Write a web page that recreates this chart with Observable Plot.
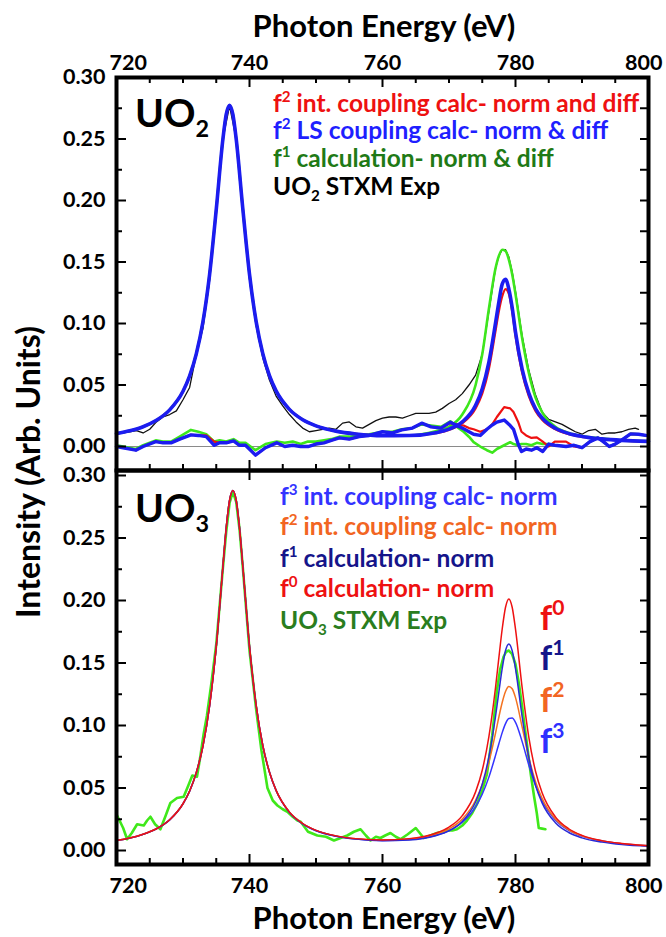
<!DOCTYPE html>
<html><head><meta charset="utf-8">
<script src="https://cdn.jsdelivr.net/npm/d3@7"></script>
<script src="https://cdn.jsdelivr.net/npm/@observablehq/plot@0.6"></script>
<style>
html,body{margin:0;padding:0;background:#fff;}
#chart{position:relative;width:666px;height:937px;overflow:hidden;background:#fff;}
#chart svg{position:absolute;left:0;top:0;}
</style></head><body><div id="chart"></div>
<script>
// ---------- DATA ----------
const xTickMajor = [720, 740, 760, 780, 800];
const xTickMinor = [725, 730, 735, 745, 750, 755, 765, 770, 775, 785, 790, 795];
const yTickMajor = [0, 0.05, 0.10, 0.15, 0.20, 0.25, 0.30];
const yTickMinor = [0.025, 0.075, 0.125, 0.175, 0.225, 0.275];

// Top panel: UO2
const eTop = [720,722,724,726,728,730,731,732,733,734,735,736,736.5,737,737.5,738,739,740,741,742,743,744,746,748,750,753,756,760,764,768,770,772,774,775,776,777,777.5,778,778.5,779,779.5,780,781,782,783,784,786,788,790,793,796,800];
const uo2LS = [0.0105,0.0128,0.0161,0.0213,0.0298,0.0449,0.0574,0.0753,0.1014,0.1399,0.1927,0.2499,0.2700,0.2774,0.2700,0.2500,0.1930,0.1400,0.1015,0.0755,0.0576,0.0452,0.0302,0.0218,0.0168,0.0125,0.0102,0.0088,0.0089,0.0112,0.0141,0.0200,0.0336,0.0470,0.0686,0.1005,0.1175,0.1320,0.1360,0.1280,0.1130,0.0930,0.0630,0.0435,0.0309,0.0232,0.0148,0.0106,0.0082,0.0062,0.0050,0.0042];
const uo2Int = [0.0105,0.0128,0.0161,0.0213,0.0298,0.0449,0.0574,0.0753,0.1014,0.1399,0.1927,0.2499,0.2700,0.2774,0.2700,0.2500,0.1930,0.1400,0.1015,0.0755,0.0576,0.0452,0.0302,0.0218,0.0168,0.0125,0.0102,0.0088,0.0088,0.0108,0.0135,0.0190,0.0310,0.0430,0.0630,0.0940,0.1100,0.1220,0.1280,0.1240,0.1100,0.0900,0.0600,0.0410,0.0290,0.0218,0.0140,0.0100,0.0079,0.0060,0.0048,0.0040];
const uo2F1 = [0.0105,0.0128,0.0161,0.0213,0.0298,0.0449,0.0574,0.0753,0.1014,0.1399,0.1927,0.2499,0.2700,0.2774,0.2700,0.2500,0.1930,0.1400,0.1015,0.0755,0.0576,0.0452,0.0302,0.0218,0.0168,0.0125,0.0102,0.0088,0.0090,0.0125,0.0160,0.0260,0.0500,0.0750,0.1120,0.1450,0.1550,0.1600,0.1590,0.1520,0.1400,0.1240,0.0880,0.0600,0.0400,0.0280,0.0160,0.0110,0.0085,0.0065,0.0050,0.0042];

const eExpTop = [720,721,722,723,724,725,726,727,728,729,730,731,732,733,734,735,736,737,738,739,740,741,742,743,744,745,746,747,748,749,750,751,752,753,754,755,756,757,758,759,760,761,762,763,764,765,766,767,768,769,770,771,772,773,774,775,776,777,777.5,778,778.5,779,779.5,780,781,782,783,784,785,786,787,788,789,790,791,792,793,794,795,796,797,798,798.5];
const uo2Exp = [0.010,0.011,0.012,0.013,0.011,0.014,0.020,0.024,0.026,0.029,0.038,0.048,0.075,0.096,0.135,0.195,0.250,0.277,0.250,0.190,0.136,0.098,0.072,0.054,0.041,0.033,0.026,0.020,0.015,0.012,0.013,0.014,0.015,0.014,0.019,0.020,0.016,0.015,0.018,0.021,0.023,0.024,0.024,0.023,0.025,0.027,0.027,0.027,0.028,0.031,0.035,0.038,0.043,0.050,0.058,0.075,0.110,0.145,0.155,0.160,0.160,0.154,0.142,0.126,0.090,0.062,0.042,0.028,0.022,0.020,0.018,0.015,0.012,0.010,0.013,0.014,0.010,0.011,0.011,0.012,0.014,0.015,0.014];

const eDiff = [720,721,722.9,724,725.9,727,728.2,729.5,731.2,732.3,733.5,734.7,735.5,736.5,737.6,738.5,739.4,740.9,742.4,744.1,745.3,746.5,747.7,748.8,750,751.2,752.3,753.5,755,756.5,758,760,761.5,762.9,764.5,765.9,767.3,768.8,770.2,771.2,772.2,773,773.7,774.7,775.7,776.5,777.2,778.3,779.2,779.7,780.4,780.9,781.6,782.4,783.2,784.1,785,785.9,787.6,788.8,790,791.2,792.4,793.2,794.1,795,795.9,797.3,798.5,799.6];
const diffLS = [0.000,-0.001,-0.003,0.000,0.004,0.003,0.003,0.006,0.0095,0.009,0.008,0.001,0.003,0.003,0.0046,0.001,0.001,-0.007,-0.001,0.003,0.000,0.001,0.000,0.000,0.002,0.003,0.005,0.007,0.006,0.008,0.009,0.012,0.011,0.0135,0.015,0.019,0.016,0.015,0.0198,0.017,0.0144,0.012,0.010,0.009,0.014,0.0175,0.0198,0.0215,0.017,0.014,0.002,-0.004,-0.002,-0.003,-0.001,-0.004,0.002,0.001,0.000,0.001,-0.001,0.004,0.007,0.004,0.000,0.002,0.005,0.0103,0.010,0.009];
const diffInt = [0.000,-0.001,-0.003,0.000,0.004,0.003,0.003,0.006,0.0095,0.009,0.009,0.004,0.003,0.003,0.0046,0.001,0.001,-0.007,-0.001,0.003,0.000,0.001,0.000,0.000,0.002,0.003,0.005,0.007,0.006,0.008,0.009,0.012,0.011,0.0135,0.015,0.019,0.016,0.015,0.019,0.018,0.017,0.015,0.014,0.012,0.014,0.018,0.024,0.032,0.031,0.028,0.020,0.012,0.009,0.007,0.0075,0.004,0.000,0.004,0.004,0.000,-0.001,0.004,0.007,0.004,0.000,0.002,0.005,0.0103,0.010,0.009];
const diffF1 = [0.001,0.000,-0.002,0.001,0.005,0.004,0.004,0.008,0.0135,0.012,0.010,0.004,0.005,0.004,0.006,0.003,0.003,-0.003,0.002,0.004,0.003,0.004,0.002,0.004,0.004,0.005,0.006,0.008,0.008,0.009,0.010,0.012,0.012,0.014,0.015,0.018,0.017,0.016,0.0205,0.016,0.012,0.008,0.0035,0.000,-0.003,-0.005,-0.002,0.001,0.0035,0.002,0.001,0.002,0.002,0.001,0.003,0.002,0.002,0.001,0.000,0.001,-0.001,0.004,0.007,0.004,0.000,0.002,0.005,0.0103,0.010,0.009];

// Bottom panel: UO3
const eBot = [720,722,724,726,728,730,731,732,733,734,735,736,736.5,737,737.5,738,738.5,739,740,741,742,743,744,746,748,750,753,756,760,764,768,770,772,774,775,776,777,777.5,778,778.5,779,779.5,780,781,782,783,784,786,788,790,793,796,800];
const uo3F0 = [0.0080,0.0100,0.0130,0.0174,0.0246,0.0374,0.0476,0.0623,0.0836,0.1159,0.1631,0.2270,0.2580,0.2800,0.2880,0.2800,0.2580,0.2270,0.1633,0.1161,0.0839,0.0627,0.0481,0.0307,0.0216,0.0161,0.0117,0.0095,0.0085,0.0095,0.0138,0.0187,0.0279,0.0469,0.0642,0.0911,0.1306,0.1543,0.1772,0.1946,0.2013,0.1946,0.1771,0.1303,0.0907,0.0636,0.0462,0.0269,0.0174,0.0121,0.0079,0.0056,0.0038];
const uo3F1 = [0.0079,0.0099,0.0129,0.0173,0.0245,0.0373,0.0475,0.0622,0.0835,0.1158,0.1630,0.2270,0.2580,0.2800,0.2880,0.2800,0.2580,0.2270,0.1632,0.1160,0.0838,0.0626,0.0480,0.0305,0.0213,0.0158,0.0114,0.0091,0.0079,0.0084,0.0118,0.0157,0.0232,0.0388,0.0530,0.0749,0.1074,0.1268,0.1456,0.1600,0.1653,0.1599,0.1455,0.1071,0.0745,0.0524,0.0381,0.0222,0.0144,0.0101,0.0067,0.0047,0.0033];
const uo3F2 = [0.0080,0.0100,0.0130,0.0174,0.0246,0.0374,0.0476,0.0624,0.0836,0.1159,0.1632,0.2270,0.2580,0.2800,0.2880,0.2800,0.2580,0.2270,0.1633,0.1162,0.0840,0.0628,0.0482,0.0308,0.0216,0.0161,0.0116,0.0094,0.0084,0.0092,0.0131,0.0173,0.0251,0.0402,0.0528,0.0707,0.0940,0.1068,0.1184,0.1272,0.1312,0.1294,0.1223,0.0988,0.0745,0.0553,0.0417,0.0252,0.0166,0.0117,0.0077,0.0055,0.0038];
const uo3F3 = [0.0080,0.0100,0.0130,0.0174,0.0246,0.0374,0.0476,0.0624,0.0836,0.1159,0.1632,0.2270,0.2580,0.2800,0.2880,0.2800,0.2580,0.2270,0.1633,0.1162,0.0840,0.0628,0.0481,0.0306,0.0214,0.0160,0.0115,0.0092,0.0081,0.0088,0.0122,0.0159,0.0226,0.0349,0.0450,0.0587,0.0761,0.0854,0.0943,0.1015,0.1056,0.1060,0.1025,0.0871,0.0684,0.0522,0.0399,0.0245,0.0162,0.0115,0.0076,0.0054,0.0037];

const eExpBot = [720,721,721.6,722.3,723.1,724.1,724.6,725.1,725.8,726.6,727.4,728.1,729.1,730.1,730.8,731.4,732.1,732.6,733.1,733.6,734.3,735,736,736.5,737,737.5,738,738.5,739,740,741,741.8,742.7,743.5,744.2,745,745.7,746.5,747.2,747.7,748.8,750.2,751.5,752.7,753.7,754.7,755.7,756.7,757.5,758.2,759,759.7,760.4,761.2,762,762.7,763.8,765,765.6,766.2,767.2,768.2,769,769.7,770.5,771.2,772,772.7,773.5,774.2,775,775.7,776.5,777.2,777.7,778.2,778.6,779,779.5,780,780.5,781,781.6,782.3,782.8,783.2,783.5,784,784.5];
const uo3Exp = [0.029,0.018,0.009,0.014,0.021,0.020,0.024,0.027,0.021,0.017,0.028,0.038,0.042,0.043,0.052,0.060,0.059,0.075,0.093,0.108,0.135,0.165,0.226,0.255,0.278,0.287,0.279,0.257,0.226,0.160,0.113,0.080,0.050,0.040,0.036,0.033,0.031,0.027,0.024,0.023,0.015,0.012,0.011,0.008,0.010,0.012,0.015,0.017,0.012,0.008,0.011,0.010,0.012,0.014,0.011,0.009,0.013,0.018,0.014,0.010,0.012,0.014,0.015,0.016,0.016,0.017,0.020,0.024,0.030,0.037,0.048,0.061,0.092,0.128,0.145,0.155,0.159,0.160,0.157,0.149,0.134,0.115,0.090,0.061,0.043,0.030,0.018,0.0175,0.017];

// ---------- helpers ----------
const FONT = "Lato, 'Open Sans', sans-serif";
const W = 666, H = 937, ML = 116, MR = 18;
const PW = W - ML - MR;
const rows = (xs, ys) => xs.map((E, i) => ({E, v: ys[i]}));

function frameAxes(ph, {topLabels, bottomLabels, topMinor, bottomMinor}) {
  const m = [];
  m.push(Plot.tickY(yTickMajor, {y: d => d, insetRight: PW - 10, stroke: "black", strokeWidth: 2}));
  m.push(Plot.tickY(yTickMinor, {y: d => d, insetRight: PW - 6, stroke: "black", strokeWidth: 2}));
  m.push(Plot.tickY(yTickMajor.concat(yTickMinor), {y: d => d, insetLeft: PW - 8, stroke: "black", strokeWidth: 2}));
  m.push(Plot.tickX(xTickMajor, {x: d => d, insetTop: ph - 10, stroke: "black", strokeWidth: 2}));
  if (bottomMinor) m.push(Plot.tickX(xTickMinor, {x: d => d, insetTop: ph - 6, stroke: "black", strokeWidth: 2}));
  m.push(Plot.tickX(xTickMajor, {x: d => d, insetBottom: ph - 10, stroke: "black", strokeWidth: 2}));
  if (topMinor) m.push(Plot.tickX(xTickMinor, {x: d => d, insetBottom: ph - 6, stroke: "black", strokeWidth: 2}));
  m.push(Plot.frame({stroke: "black", strokeWidth: 4}));
  m.push(Plot.axisY({ticks: yTickMajor, tickSize: 0, tickPadding: 11, tickFormat: d => d.toFixed(2), label: null, fontSize: 21.5, fontWeight: 700}));
  const anchor = topLabels ? "top" : "bottom";
  const pad = topLabels ? 8 : 13;
  if (topLabels || bottomLabels) {
    m.push(Plot.axisX({anchor, ticks: xTickMajor.slice(1, 4), tickSize: 0, tickPadding: pad, label: null, fontSize: 21.5, fontWeight: 700}));
    m.push(Plot.axisX({anchor, ticks: [xTickMajor[0]], tickSize: 0, tickPadding: pad, textAnchor: "start", dx: -7, label: null, fontSize: 21.5, fontWeight: 700}));
    m.push(Plot.axisX({anchor, ticks: [xTickMajor[4]], tickSize: 0, tickPadding: pad, textAnchor: "end", dx: 14, label: null, fontSize: 21.5, fontWeight: 700}));
  } else {
    m.push(Plot.axisX({anchor: "bottom", ticks: [], tickSize: 0, label: null}));
  }
  return m;
}

const baseStyle = {background: "transparent", fontFamily: FONT, fontWeight: 700, color: "black"};

// ---------- top panel ----------
const topTop = 77, topBot = 470;
const topPlot = Plot.plot({
  width: W, height: H,
  marginTop: topTop, marginBottom: H - topBot, marginLeft: ML, marginRight: MR,
  x: {domain: [720, 800]},
  y: {domain: [-0.0195, 0.30]},
  style: baseStyle,
  marks: [
    Plot.ruleY([0], {stroke: "#8a8a8a", strokeWidth: 1}),
    Plot.line(rows(eExpTop, uo2Exp), {x: "E", y: "v", stroke: "#111", strokeWidth: 1.3}),
    Plot.line(rows(eTop, uo2F1), {x: "E", y: "v", stroke: "#3de61c", strokeWidth: 2.6, curve: "monotone-x"}),
    Plot.line(rows(eDiff, diffF1), {x: "E", y: "v", stroke: "#3de61c", strokeWidth: 2.6}),
    Plot.line(rows(eTop, uo2Int), {x: "E", y: "v", stroke: "#ee1111", strokeWidth: 2.2, curve: "monotone-x"}),
    Plot.line(rows(eDiff, diffInt), {x: "E", y: "v", stroke: "#ee1111", strokeWidth: 2.2}),
    Plot.line(rows(eDiff, diffLS), {x: "E", y: "v", stroke: "#1c1cf0", strokeWidth: 3.4}),
    Plot.line(rows(eTop, uo2LS), {x: "E", y: "v", stroke: "#1c1cf0", strokeWidth: 3.6, curve: "monotone-x"}),
    ...frameAxes(topBot - topTop, {topLabels: true, topMinor: true, bottomMinor: true})
  ]
});

// ---------- bottom panel ----------
const botTop = 470, botBot = 864;
const botPlot = Plot.plot({
  width: W, height: H,
  marginTop: botTop, marginBottom: H - botBot, marginLeft: ML, marginRight: MR,
  x: {domain: [720, 800]},
  y: {domain: [-0.0112, 0.304]},
  style: baseStyle,
  marks: [
    Plot.line(rows(eExpBot, uo3Exp), {x: "E", y: "v", stroke: "#3fe81a", strokeWidth: 2.6}),
    Plot.line(rows(eBot, uo3F3), {x: "E", y: "v", stroke: "#3434ff", strokeWidth: 1.5, curve: "monotone-x"}),
    Plot.line(rows(eBot, uo3F2), {x: "E", y: "v", stroke: "#f47321", strokeWidth: 1.5, curve: "monotone-x"}),
    Plot.line(rows(eBot, uo3F1), {x: "E", y: "v", stroke: "#2a2ad6", strokeWidth: 1.5, curve: "monotone-x"}),
    Plot.line(rows(eBot, uo3F0), {x: "E", y: "v", stroke: "#ee1111", strokeWidth: 1.5, curve: "monotone-x"}),
    ...frameAxes(botBot - botTop, {bottomLabels: true, topMinor: false, bottomMinor: true})
  ]
});

const chart = document.getElementById("chart");
chart.appendChild(botPlot);
chart.appendChild(topPlot);

// ---------- annotations ----------
const ov = d3.select(chart).append("svg").attr("width", W).attr("height", H)
  .style("position", "absolute").style("left", 0).style("top", 0).style("pointer-events", "none");

function label(x, y, parts, size, color, opts = {}) {
  const t = ov.append("text").attr("x", x).attr("y", y)
    .attr("font-family", FONT).attr("font-weight", 700).attr("font-size", size)
    .attr("fill", color).attr("text-anchor", opts.anchor || "start");
  if (opts.transform) t.attr("transform", opts.transform);
  let shift = 0;
  for (const p of parts) {
    const s = t.append("tspan");
    let target = 0, fs = size;
    if (typeof p !== "string") { target = p.sup ? -size * (p.k || 0.42) : size * (p.k || 0.28); fs = size * (p.s || 0.62); }
    s.attr("dy", target - shift).attr("font-size", fs).text(typeof p === "string" ? p : p.t);
    shift = target;
  }
}

label(384, 37, ["Photon Energy (eV)"], 31, "black", {anchor: "middle"});
label(384, 929, ["Photon Energy (eV)"], 31, "black", {anchor: "middle"});
label(0, 0, ["Intensity (Arb. Units)"], 32, "black", {anchor: "middle", transform: "translate(40,472) rotate(-90)"});

label(135, 127, ["UO", {t: "2", k: 0.25, s: 0.6}], 39, "black");
label(135, 522, ["UO", {t: "3", k: 0.25, s: 0.6}], 39, "black");

const LT = 24.5;
label(273, 112, ["f", {t: "2", sup: true}, " int. coupling calc- norm and diff"], LT, "#ee1111");
label(273, 139, ["f", {t: "2", sup: true}, " LS coupling calc- norm & diff"], LT, "#1f1fff");
label(273, 167, ["f", {t: "1", sup: true}, " calculation- norm & diff"], LT, "#1f7a16");
label(273, 195, ["UO", {t: "2", k: 0.25}, " STXM Exp"], LT, "black");

label(280, 505, ["f", {t: "3", sup: true}, " int. coupling calc- norm"], LT, "#3333ff");
label(280, 535, ["f", {t: "2", sup: true}, " int. coupling calc- norm"], LT, "#f26522");
label(280, 567, ["f", {t: "1", sup: true}, " calculation- norm"], LT, "#15158a");
label(280, 597, ["f", {t: "0", sup: true}, " calculation- norm"], LT, "#ee1111");
label(280, 629, ["UO", {t: "3", k: 0.25}, " STXM Exp"], LT, "#2a7d1e");

const FS = 34;
label(540, 630, ["f", {t: "0", sup: true, k: 0.45}], FS, "#ee1111");
label(540, 670, ["f", {t: "1", sup: true, k: 0.45}], FS, "#15158a");
label(540, 712, ["f", {t: "2", sup: true, k: 0.45}], FS, "#f26522");
label(540, 753, ["f", {t: "3", sup: true, k: 0.45}], FS, "#2f2fff");
</script></body></html>
